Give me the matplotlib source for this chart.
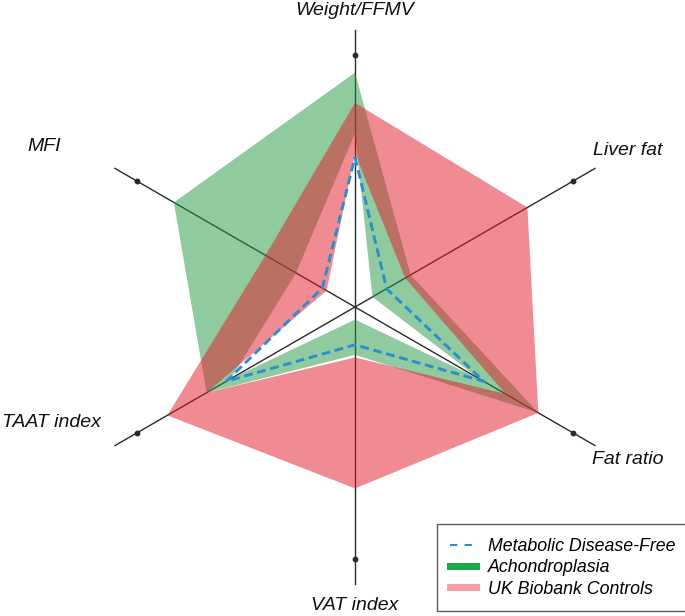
import numpy as np
import matplotlib
matplotlib.use("Agg")
import matplotlib.pyplot as plt
from matplotlib.path import Path
from matplotlib.patches import PathPatch
from matplotlib.lines import Line2D

plt.rcParams['font.family'] = ['Liberation Sans', 'DejaVu Sans']

# ── Data (normalised, 1.0 = axis dot) ──────────────────────────────────────
LABELS = ["Weight/FFMV", "Liver fat", "Fat ratio", "VAT index", "TAAT index", "MFI"]
ANGLES_DEG = [90, 30, -30, -90, -150, 150]

ACH_LOW = [0.69, 0.08, 0.57, 0.05, 0.57, 0.27]
ACH_HIGH = [0.93, 0.255, 0.84, 0.19, 0.68, 0.83]
UKB_LOW = [0.61, 0.23, 0.69, 0.20, 0.68, 0.13]
UKB_HIGH = [0.81, 0.79, 0.84, 0.72, 0.86, 0.41]
MDF_MEAN = [0.595, 0.145, 0.59, 0.15, 0.59, 0.15]

GREEN = "#239741"
RED = "#e51929"
BLUE = "#2a8fd0"

theta = np.deg2rad(ANGLES_DEG)


def to_xy(r):
    r = np.asarray(r)
    return np.cos(theta) * r, np.sin(theta) * r


def ring(ax, lo, hi, color, alpha):
    # band between the low and high polygons (low polygon cut out as a hole)
    ox, oy = to_xy(hi)
    ix, iy = to_xy(lo)
    outer = np.column_stack([ox, oy])
    inner = np.column_stack([ix, iy])[::-1]
    verts = np.vstack([outer, outer[:1], inner, inner[:1]])
    n = len(outer)
    codes = ([Path.MOVETO] + [Path.LINETO] * (n - 1) + [Path.CLOSEPOLY]) * 2
    ax.add_patch(PathPatch(Path(verts, codes), facecolor=color, alpha=alpha,
                           lw=0, zorder=2))


fig = plt.figure(figsize=(6.85, 6.16), dpi=100)
ax = fig.add_axes([0, 0, 1, 1])
ax.set_xlim(-355 / 252, 330 / 252)
ax.set_ylim(-309 / 252, 307 / 252)
ax.axis("off")

# spokes
for t in theta:
    ax.plot([0, 1.1 * np.cos(t)], [0, 1.1 * np.sin(t)], color="#2a2a2a",
            lw=1.0, zorder=1)
    ax.plot(np.cos(t), np.sin(t), "o", color="#2a2a2a", ms=3.2, zorder=1)

ring(ax, ACH_LOW, ACH_HIGH, GREEN, 0.5)
ring(ax, UKB_LOW, UKB_HIGH, RED, 0.5)

mx, my = to_xy(MDF_MEAN)
ax.plot(np.append(mx, mx[0]), np.append(my, my[0]), color=BLUE, lw=2.1,
        dashes=(3, 1.6), zorder=4)

# axis labels
label_pos = [(0.0, 1.175), (1.083, 0.623), (1.083, -0.607),
             (0.0, -1.183), (-1.205, -0.46), (-1.234, 0.635)]
for lab, (x, y) in zip(LABELS, label_pos):
    ax.text(x, y, lab, ha="center", va="center", fontsize=14,
            style="italic", color="#111111")

handles = [
    Line2D([], [], color=BLUE, lw=1.5, dashes=(3.5, 3.5)),
    Line2D([], [], color="#1aa64a", lw=5),
    Line2D([], [], color="#f4a0a4", lw=5),
]
leg = fig.legend(handles, ["Metabolic Disease-Free", "Achondroplasia",
                           "UK Biobank Controls"],
                 loc="lower left", bbox_to_anchor=(437 / 685, 5 / 616),
                 borderaxespad=0, fancybox=False, edgecolor="#333333",
                 prop={"style": "italic", "size": 12.8}, handlelength=1.45,
                 labelspacing=0.25, borderpad=0.75, handletextpad=0.65)
leg.get_frame().set_linewidth(1.0)

fig.savefig("out.png", dpi=100, facecolor="white")
